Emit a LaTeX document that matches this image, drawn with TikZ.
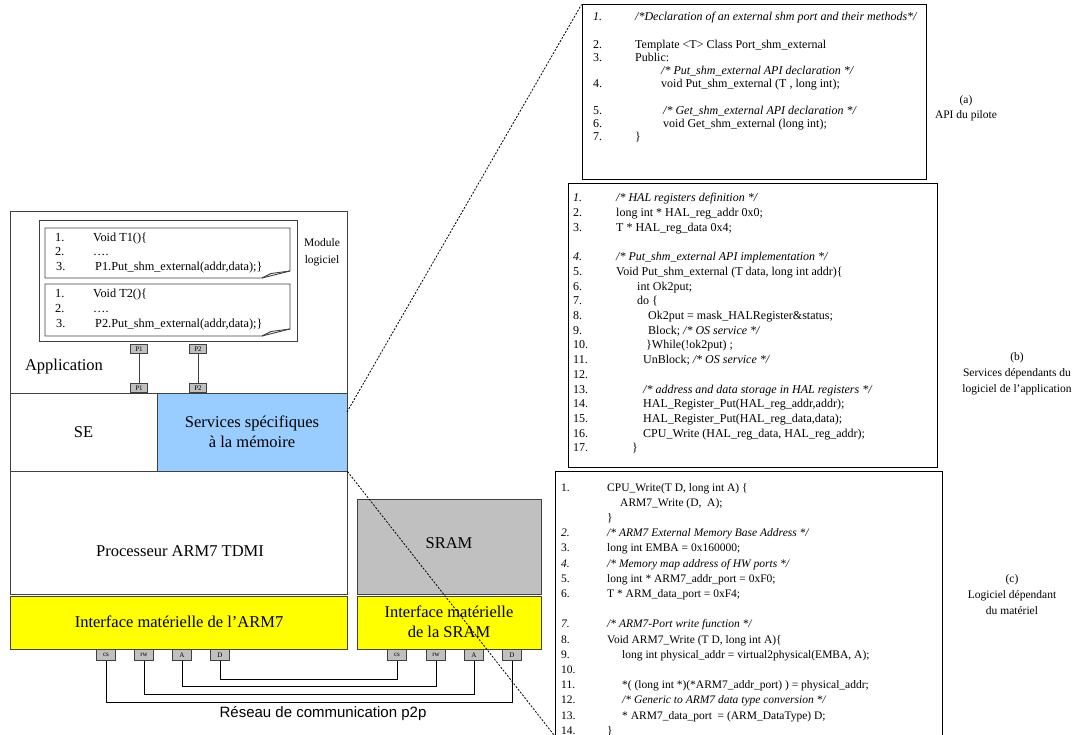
\documentclass[tikz,border=0pt]{standalone}
\usepackage{fontspec}
\setmainfont{Liberation Serif}
\newfontfamily\sansf{Liberation Sans}
\definecolor{svcblue}{HTML}{99CCFF}
\definecolor{sramgray}{HTML}{C0C0C0}
\definecolor{hwyellow}{HTML}{FFFF00}
\definecolor{edgegray}{HTML}{404040}
\newcommand\codefont{\fontsize{12}{13}\selectfont}
\newcommand\cfont{\fontsize{11.5}{13}\selectfont}
\newcommand\cl[4]{\node[code] (#1) at (#2,#3) {#4};}
\newcommand\ci[4]{\node[code,font=\codefont\itshape] (#1) at (#2,#3) {#4};}
\newcommand\kl[4]{\node[code,font=\cfont] (#1) at (#2,#3) {#4};}
\newcommand\ki[4]{\node[code,font=\cfont\itshape] (#1) at (#2,#3) {#4};}
\begin{document}
\begin{tikzpicture}[x=1pt,y=-1pt,
  cbox/.style={draw=black, line width=1pt, inner sep=0pt},
  lbox/.style={draw=edgegray, line width=0.9pt, inner sep=0pt},
  code/.style={anchor=base west, inner sep=0pt, font=\codefont},
  tcode/.style={anchor=base west, inner sep=0pt, font=\fontsize{12.3}{14}\selectfont},
  lab/.style={anchor=base, inner sep=0pt, font=\fontsize{11.5}{13}\selectfont},
  big/.style={font=\fontsize{16.5}{19.5}\selectfont, align=center, inner sep=0pt},
  pport/.style={draw=edgegray, fill=sramgray, minimum width=17pt, minimum height=9pt, inner sep=0pt, font=\fontsize{7}{8}\selectfont},
  hport/.style={draw=edgegray, fill=sramgray, minimum width=19pt, minimum height=11pt, inner sep=0pt, font=\fontsize{7}{8}\selectfont},
  wire/.style={draw=black, line width=0.9pt},
  zoomline/.style={draw=black, line width=0.8pt, dash pattern=on 2pt off 1.5pt},
]
\useasboundingbox (0,0) rectangle (1072,735);

% ---------------- left column ----------------
\node[lbox, minimum width=337pt, minimum height=182pt] (app) at (178.5,302) {};
\node[lbox, minimum width=258pt, minimum height=121pt] (module) at (168,280.5) {};
\draw[lbox] (45,228) -- (290,228) -- (290,271) -- (262,278) -- (45,278) -- cycle;
\draw[lbox] (262,278) -- (271,273.5) -- (290,271);
\draw[lbox] (45,284) -- (290,284) -- (290,329) -- (262,336) -- (45,336) -- cycle;
\draw[lbox] (262,336) -- (271,331.5) -- (290,329);

\node[tcode] (t1n1) at (55,242) {1.};
\node[tcode] (t1t1) at (93,242) {Void T1()\{};
\node[tcode] (t1n2) at (55,256) {2.};
\node[tcode] (t1t2) at (93,256) {….};
\node[tcode] (t1n3) at (56,271) {3.};
\node[tcode] (t1t3) at (95,271) {P1.Put\_shm\_external(addr,data);\}};
\node[tcode] (t2n1) at (55,298) {1.};
\node[tcode] (t2t1) at (93,298) {Void T2()\{};
\node[tcode] (t2n2) at (55,313) {2.};
\node[tcode] (t2t2) at (93,313) {….};
\node[tcode] (t2n3) at (56,328) {3.};
\node[tcode] (t2t3) at (95,328) {P2.Put\_shm\_external(addr,data);\}};

\node[lab] (modlab1) at (322,247) {Module};
\node[lab] (modlab2) at (322,264) {logiciel};

\node[pport] (p1u) at (139,349) {P1};
\node[pport] (p2u) at (198,349) {P2};
\node[pport] (p1l) at (139,388) {P1};
\node[pport] (p2l) at (198,388) {P2};
\draw[lbox] (p1u) -- (p1l);
\draw[lbox] (p2u) -- (p2l);

\node[big] (lapp) at (64,367) {Application};

\node[lbox, minimum width=147pt, minimum height=78pt] (se) at (83.5,432) {};
\node[lbox, fill=svcblue, minimum width=190pt, minimum height=78pt] (svc) at (252,432) {};
\node[big] (lse) at (83.5,432) {SE};
\node[big] (lsvc) at (252,432) {Services spécifiques\\à la mémoire};

\node[lbox, minimum width=337pt, minimum height=123pt] (proc) at (178.5,532.5) {};
\node[big] (lproc) at (180,551) {Processeur ARM7 TDMI};

\node[lbox, fill=hwyellow, minimum width=337pt, minimum height=53pt] (yarm) at (178.5,622.5) {};
\node[big] (lyarm) at (179,622) {Interface matérielle de l’ARM7};

\node[lbox, fill=sramgray, minimum width=184pt, minimum height=95pt] (sram) at (449,546.5) {};
\node[big] (lsram) at (449,543) {SRAM};
\node[lbox, fill=hwyellow, minimum width=184pt, minimum height=53pt] (ysram) at (449,622.5) {};
\node[big] (lysram) at (449,622) {Interface matérielle\\de la SRAM};

\node[hport] (acs) at (106,655) {cs};
\node[hport] (arw) at (144,655) {rw};
\node[hport] (aA) at (182,655) {A};
\node[hport] (aD) at (220,655) {D};
\node[hport] (scs) at (397,655) {cs};
\node[hport] (srw) at (436,655) {rw};
\node[hport] (sA) at (474,655) {A};
\node[hport] (sD) at (512,655) {D};

\coordinate (lv1) at (0,679);
\coordinate (lv2) at (0,686);
\coordinate (lv3) at (0,694);
\coordinate (lv4) at (0,702);
\draw[wire] (aD.south) -- (aD.south |- lv1) -- (scs.south |- lv1) -- (scs.south);
\draw[wire] (aA.south) -- (aA.south |- lv2) -- (srw.south |- lv2) -- (srw.south);
\draw[wire] (arw.south) -- (arw.south |- lv3) -- (sA.south |- lv3) -- (sA.south);
\draw[wire] (acs.south) -- (acs.south |- lv4) -- (sD.south |- lv4) -- (sD.south);

\node[font=\sansf\fontsize{15}{18}\selectfont, inner sep=0pt] (lnet) at (323,714) {Réseau de communication p2p};

% ---------------- right column ----------------
\node[cbox, minimum width=344pt, minimum height=175pt] (boxa) at (754,92.5) {};
\node[cbox, minimum width=369pt, minimum height=284pt] (boxb) at (752.5,326) {};
\node[cbox, minimum width=387pt, minimum height=280pt] (boxc) at (748.5,612) {};

% box a
\ci{a1n}{593}{21}{1.}
\ci{a1t}{635}{21}{/*Declaration of an external shm port and their methods*/}
\cl{a2n}{593}{49}{2.}
\cl{a2t}{635}{49}{Template <T> Class Port\_shm\_external}
\cl{a3n}{593}{62}{3.}
\cl{a3t}{635}{62}{Public:}
\ci{a3c}{661}{75}{/* Put\_shm\_external API declaration */}
\cl{a4n}{593}{88}{4.}
\cl{a4t}{661}{88}{void Put\_shm\_external (T , long int);}
\cl{a5n}{593}{115}{5.}
\ci{a5t}{663}{115}{/* Get\_shm\_external API declaration */}
\cl{a6n}{593}{128}{6.}
\cl{a6t}{663}{128}{void Get\_shm\_external (long int);}
\cl{a7n}{593}{141}{7.}
\cl{a7t}{635}{141}{\}}
\node[lab] (laba1) at (966,104) {(a)};
\node[lab] (laba2) at (966,119) {API du pilote};

% box b
\ci{b1n}{573}{202}{1.}
\ci{b1t}{616}{202}{/* HAL registers definition */}
\cl{b2n}{573}{216.7}{2.}
\cl{b2t}{616}{216.7}{long int * HAL\_reg\_addr 0x0;}
\cl{b3n}{573}{231.4}{3.}
\cl{b3t}{616}{231.4}{T * HAL\_reg\_data 0x4;}
\ci{b4n}{573}{260.8}{4.}
\ci{b4t}{616}{260.8}{/* Put\_shm\_external API implementation */}
\cl{b5n}{573}{275.5}{5.}
\cl{b5t}{616}{275.5}{Void Put\_shm\_external (T data, long int addr)\{}
\cl{b6n}{573}{290.2}{6.}
\cl{b6t}{637}{290.2}{int Ok2put;}
\cl{b7n}{573}{304.9}{7.}
\cl{b7t}{637}{304.9}{do \{}
\cl{b8n}{573}{319.6}{8.}
\cl{b8t}{648}{319.6}{Ok2put = mask\_HALRegister\&status;}
\cl{b9n}{573}{334.3}{9.}
\node[code] (b9t) at (648,334.3) {Block; \textit{/* OS service */}};
\cl{b10n}{573}{349}{10.}
\cl{b10t}{646}{349}{\}While(!ok2put) ;}
\cl{b11n}{573}{363.7}{11.}
\node[code] (b11t) at (643,363.7) {UnBlock; \textit{/* OS service */}};
\cl{b12n}{573}{378.4}{12.}
\cl{b13n}{573}{393.1}{13.}
\ci{b13t}{643}{393.1}{/* address and data storage in HAL registers */}
\cl{b14n}{573}{407.8}{14.}
\cl{b14t}{643}{407.8}{HAL\_Register\_Put(HAL\_reg\_addr,addr);}
\cl{b15n}{573}{422.5}{15.}
\cl{b15t}{643}{422.5}{HAL\_Register\_Put(HAL\_reg\_data,data);}
\cl{b16n}{573}{437.2}{16.}
\cl{b16t}{643}{437.2}{CPU\_Write (HAL\_reg\_data, HAL\_reg\_addr);}
\cl{b17n}{573}{451.9}{17.}
\cl{b17t}{632}{451.9}{\}}
\node[lab] (labb1) at (1017,361) {(b)};
\node[lab] (labb2) at (1017,377) {Services dépendants du};
\node[lab] (labb3) at (1017,393) {logiciel de l’application};

% box c
\kl{c1n}{561}{491}{1.}
\kl{c1t}{607}{491}{CPU\_Write(T D, long int A) \{}
\kl{c1u}{620}{506.2}{ARM7\_Write (D,\ \ A);}
\kl{c1v}{607}{521.4}{\}}
\ki{c2n}{561}{536.6}{2.}
\ki{c2t}{607}{536.6}{/* ARM7 External Memory Base Address */}
\kl{c3n}{561}{551.8}{3.}
\kl{c3t}{607}{551.8}{long int EMBA = 0x160000;}
\ki{c4n}{561}{567}{4.}
\ki{c4t}{607}{567}{/* Memory map address of HW ports */}
\kl{c5n}{561}{582.2}{5.}
\kl{c5t}{607}{582.2}{long int * ARM7\_addr\_port = 0xF0;}
\kl{c6n}{561}{597.4}{6.}
\kl{c6t}{607}{597.4}{T * ARM\_data\_port = 0xF4;}
\ki{c7n}{561}{627.8}{7.}
\ki{c7t}{607}{627.8}{/* ARM7-Port write function */}
\kl{c8n}{561}{643}{8.}
\kl{c8t}{607}{643}{Void ARM7\_Write (T D, long int A)\{}
\kl{c9n}{561}{658.2}{9.}
\kl{c9t}{622}{658.2}{long int physical\_addr = virtual2physical(EMBA, A);}
\kl{c10n}{561}{673.4}{10.}
\kl{c11n}{561}{688.6}{11.}
\kl{c11t}{622}{688.6}{*( (long int *)(*ARM7\_addr\_port) ) = physical\_addr;}
\kl{c12n}{561}{703.8}{12.}
\ki{c12t}{622}{703.8}{/* Generic to ARM7 data type conversion */}
\kl{c13n}{561}{719}{13.}
\kl{c13t}{622}{719}{* ARM7\_data\_port \ = (ARM\_DataType) D;}
\kl{c14n}{561}{734.2}{14.}
\kl{c14t}{607}{734.2}{\}}
\node[lab] (labc1) at (1012,582) {(c)};
\node[lab] (labc2) at (1012,598) {Logiciel dépendant};
\node[lab] (labc3) at (1012,614) {du matériel};

% zoom lines
\coordinate (zs) at (347,412);
\coordinate (ze) at (554,735);
\draw[zoomline] (zs) -- (boxa.north west);
\draw[zoomline] (svc.south east) -- (ze);
\end{tikzpicture}
\end{document}
